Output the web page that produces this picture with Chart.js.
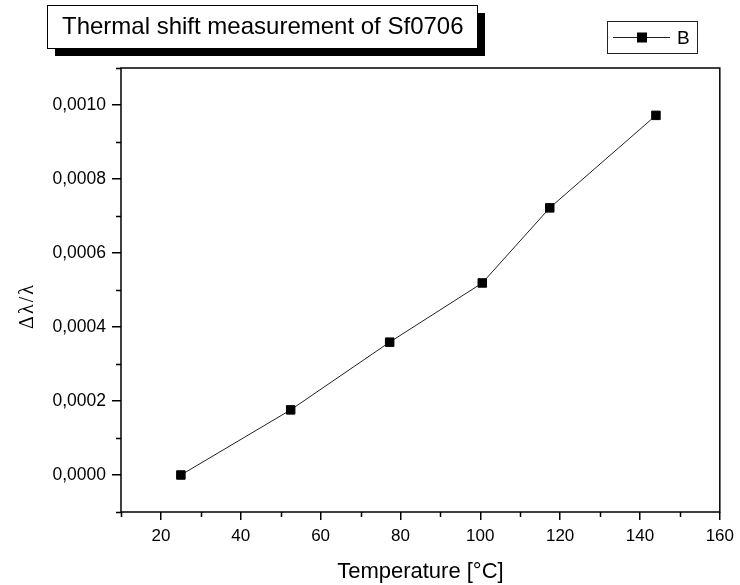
<!DOCTYPE html>
<html><head><meta charset="utf-8">
<script src="https://cdn.jsdelivr.net/npm/chart.js@4/dist/chart.umd.min.js"></script>
<style>html,body{margin:0;padding:0;background:#fff;} #wrap{width:740px;height:585px;position:relative}</style>
</head><body><div id="wrap"><canvas id="c" width="740" height="585"></canvas></div>
<script>
const chartTitle = 'Thermal shift measurement of Sf0706';
const seriesName = 'B';
const temperatures = [25, 52.5, 77.3, 100.5, 117.4, 144];
const shiftValues = [0.0000, 0.000176, 0.000359, 0.000519, 0.000722, 0.000972];
const xTickValues = [20, 40, 60, 80, 100, 120, 140, 160];
const xMinorTicks = [10, 30, 50, 70, 90, 110, 130, 150];
const yTickValues = [0, 0.0002, 0.0004, 0.0006, 0.0008, 0.0010];
const yMinorTicks = [-0.0001, 0.0001, 0.0003, 0.0005, 0.0007, 0.0009, 0.0011];
const xRange = [10, 160];
const yRange = [-0.0001, 0.0011];
const xTitle = 'Temperature [°C]';
const yTitle = 'Δλ/λ';

const SANS = '"Liberation Sans", Arial, sans-serif';
const SERIF = '"Liberation Serif", "DejaVu Serif", serif';

const decor = {
  id: 'decor',
  afterDraw(chart) {
    const {ctx, chartArea: a, scales: {x, y}} = chart;
    ctx.save();
    ctx.strokeStyle = '#000';
    ctx.lineWidth = 1.5;
    // frame
    ctx.strokeRect(a.left, a.top, a.right - a.left, a.bottom - a.top);
    // minor ticks
    ctx.beginPath();
    xMinorTicks.forEach(v => {
      const px = Math.round(x.getPixelForValue(v)) + 0.5;
      ctx.moveTo(px, a.bottom); ctx.lineTo(px, a.bottom + 5);
    });
    yMinorTicks.forEach(v => {
      const py = Math.round(y.getPixelForValue(v)) + 0.5;
      ctx.moveTo(a.left - 5, py); ctx.lineTo(a.left, py);
    });
    ctx.stroke();

    // y axis title
    ctx.save();
    ctx.translate(28, 306);
    ctx.rotate(-Math.PI / 2);
    ctx.fillStyle = '#000';
    ctx.font = '20px ' + SERIF;
    ctx.letterSpacing = '2px';
    ctx.textAlign = 'center';
    ctx.textBaseline = 'middle';
    ctx.fillText(yTitle, 0, 0);
    ctx.restore();

    // title box with shadow
    const bx = 47, by = 5, bw = 430, bh = 43;
    ctx.fillStyle = '#000';
    ctx.fillRect(bx + 8, by + 8, bw, bh);
    ctx.fillStyle = '#fff';
    ctx.fillRect(bx, by, bw, bh);
    ctx.lineWidth = 1;
    ctx.strokeStyle = '#000';
    ctx.strokeRect(bx + 0.5, by + 0.5, bw, bh);
    ctx.fillStyle = '#000';
    ctx.font = '24px ' + SANS;
    ctx.textBaseline = 'middle';
    ctx.textAlign = 'left';
    ctx.fillText(chartTitle, 62, by + bh / 2 + 1);

    // legend
    const lx = 607, ly = 21, lw = 90, lh = 32;
    ctx.strokeStyle = '#222';
    ctx.lineWidth = 1;
    ctx.strokeRect(lx + 0.5, ly + 0.5, lw, lh);
    const ds = chart.data.datasets[0];
    const cy = ly + lh / 2 + 0.5;
    ctx.beginPath();
    ctx.strokeStyle = ds.borderColor;
    ctx.moveTo(613, cy); ctx.lineTo(670, cy);
    ctx.stroke();
    ctx.fillStyle = '#000';
    ctx.fillRect(637, cy - 5, 10, 10);
    ctx.font = '19px ' + SANS;
    ctx.fillText(ds.label, 677, cy + 1);
    ctx.restore();
  }
};

new Chart(document.getElementById('c'), {
  type: 'line',
  data: {
    datasets: [{
      label: seriesName,
      data: temperatures.map((t, i) => ({x: t, y: shiftValues[i]})),
      borderColor: '#222',
      borderWidth: 1,
      backgroundColor: '#000',
      pointStyle: 'rect',
      pointRadius: 6,
      pointBorderWidth: 1,
      pointBorderColor: '#000',
      pointBackgroundColor: '#000',
      tension: 0,
      fill: false,
      clip: false
    }]
  },
  options: {
    responsive: false,
    animation: false,
    devicePixelRatio: 1,
    layout: {padding: {left: 0, right: 19, top: 68, bottom: 0}},
    plugins: {legend: {display: false}, tooltip: {enabled: false}, title: {display: false}},
    scales: {
      x: {
        type: 'linear',
        min: xRange[0], max: xRange[1],
        afterBuildTicks: s => { s.ticks = xTickValues.map(v => ({value: v})); },
        afterFit: s => { s.height = 73; },
        border: {display: false},
        grid: {display: true, drawOnChartArea: false, drawTicks: true, tickLength: 8, color: '#000', lineWidth: 1.5},
        ticks: {color: '#000', font: {family: SANS, size: 17}, padding: 6, maxRotation: 0, autoSkip: false,
                callback: v => String(v)},
        title: {display: true, text: xTitle, color: '#000', font: {family: SANS, size: 22}, padding: {top: 0, bottom: 0}}
      },
      y: {
        type: 'linear',
        min: yRange[0], max: yRange[1],
        afterBuildTicks: s => { s.ticks = yTickValues.map(v => ({value: v})); },
        afterFit: s => { s.width = 121; },
        border: {display: false},
        grid: {display: true, drawOnChartArea: false, drawTicks: true, tickLength: 9, color: '#000', lineWidth: 1.5},
        ticks: {color: '#000', font: {family: SANS, size: 17.5}, padding: 6, autoSkip: false,
                callback: v => v.toFixed(4).replace('.', ',')},
        title: {display: false}
      }
    }
  },
  plugins: [decor]
});
</script>
</body></html>
